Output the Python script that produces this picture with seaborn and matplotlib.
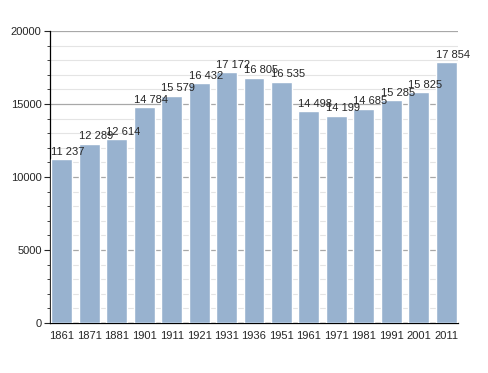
import matplotlib
matplotlib.use("Agg")
import matplotlib.pyplot as plt
import seaborn as sns
import pandas as pd
from matplotlib.ticker import MultipleLocator

years = ["1861", "1871", "1881", "1901", "1911", "1921", "1931", "1936",
         "1951", "1961", "1971", "1981", "1991", "2001", "2011"]
population = [11237, 12289, 12614, 14784, 15579, 16432, 17172, 16805,
              16535, 14498, 14199, 14685, 15285, 15825, 17854]
labels = ["11 237", "12 289", "12 614", "14 784", "15 579", "16 432", "17 172", "16 805",
          "16 535", "14 498", "14 199", "14 685", "15 285", "15 825", "17 854"]

df = pd.DataFrame({"year": years, "pop": population})

sns.set_style("white")
plt.rcParams["font.family"] = ["Liberation Sans", "DejaVu Sans"]

fig = plt.figure(figsize=(4.88, 3.73), dpi=100)
ax = fig.add_axes([0.1025, 0.134, 0.836, 0.783])

sns.barplot(data=df, x="year", y="pop", color="#98b2cf", saturation=1,
            width=0.76, ax=ax, zorder=3)

ax.set_ylim(0, 20000)
ax.set_xlim(-0.43, len(years) - 0.57)
ax.yaxis.set_major_locator(MultipleLocator(5000))
ax.yaxis.set_minor_locator(MultipleLocator(1000))
ax.grid(which="major", axis="y", color="#a8a8a8", linewidth=0.9, zorder=0)
ax.grid(which="minor", axis="y", color="#e4e4e4", linewidth=0.8, zorder=0)
ax.set_axisbelow(True)

for s in ["top", "right"]:
    ax.spines[s].set_visible(False)
ax.spines["left"].set_color("black")
ax.spines["bottom"].set_color("black")
ax.spines["left"].set_linewidth(0.9)
ax.spines["bottom"].set_linewidth(0.9)

ax.tick_params(axis="y", which="major", left=True, length=4, width=0.8,
               labelsize=8, pad=2)
ax.tick_params(axis="y", which="minor", left=True, length=2.5, width=0.6)
ax.tick_params(axis="x", bottom=False, labelsize=8, pad=2)
ax.set_xlabel("")
ax.set_ylabel("")

for i, (v, t) in enumerate(zip(population, labels)):
    ax.text(i - 0.38, v + 150, t, ha="left", va="bottom", fontsize=8, zorder=4)

fig.savefig("out.png", dpi=100)
